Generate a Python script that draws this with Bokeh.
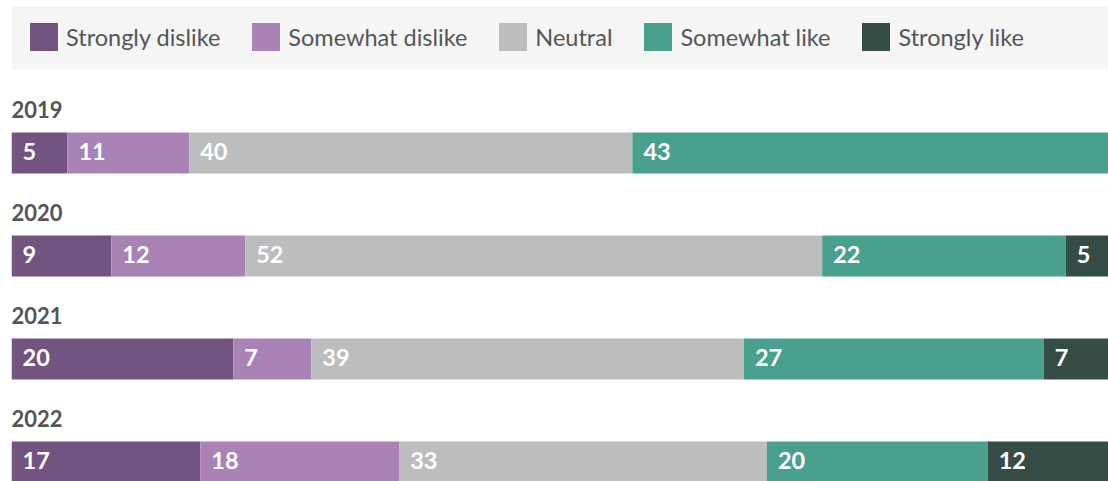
from bokeh.plotting import figure
from bokeh.models import Range1d, ColumnDataSource, Legend, LegendItem, BoxAnnotation
from bokeh.core.properties import value
from bokeh.embed import file_html
from bokeh.resources import INLINE

# ---------------- data ----------------
years = ["2019", "2020", "2021", "2022"]
categories = ["Strongly dislike", "Somewhat dislike", "Neutral", "Somewhat like", "Strongly like"]
colors = ["#73537f", "#a983b5", "#bcbdbf", "#49a08c", "#354c47"]

# segment shares (percent)
strongly_dislike = [5.1, 9.1, 20.2, 17.2]
somewhat_dislike = [11.1, 12.2, 7.1, 18.1]
neutral = [40.4, 52.6, 39.4, 33.5]
somewhat_like = [43.4, 22.2, 27.3, 20.1]
strongly_like = [0.0, 3.9, 5.9, 11.0]

# printed labels
labels_strongly_dislike = ["5", "9", "20", "17"]
labels_somewhat_dislike = ["11", "12", "7", "18"]
labels_neutral = ["40", "52", "39", "33"]
labels_somewhat_like = ["43", "22", "27", "20"]
labels_strongly_like = ["", "5", "7", "12"]

series = [strongly_dislike, somewhat_dislike, neutral, somewhat_like, strongly_like]
series_labels = [labels_strongly_dislike, labels_somewhat_dislike, labels_neutral,
                 labels_somewhat_like, labels_strongly_like]

# ---------------- layout ----------------
W, H = 1108, 481
TOP = 4
ROW_TOP0 = 132
ROW_STEP = 103
BAR_H = 41
FONT = "Lato"
BAND = "#f5f5f5"

p = figure(width=W, height=H, x_range=Range1d(0, 100), y_range=Range1d(H, TOP),
           output_backend="svg", toolbar_location=None,
           x_axis_location=None, y_axis_location=None,
           min_border_left=11, min_border_right=0, min_border_top=TOP, min_border_bottom=0)
p.grid.visible = False
p.outline_line_color = None
p.background_fill_color = "white"
p.border_fill_color = "white"

# legend band
p.add_layout(BoxAnnotation(left=0, right=100, top=6, bottom=69,
                           fill_color=BAND, fill_alpha=1, line_color=None, level="underlay"))

n = len(years)
totals = [sum(s[i] for s in series) for i in range(n)]
centers = [ROW_TOP0 + ROW_STEP * i + BAR_H / 2 for i in range(n)]
tops = [ROW_TOP0 + ROW_STEP * i for i in range(n)]

cum = [0.0] * n
items = []
for name, vals, col, labs in zip(categories, series, colors, series_labels):
    lefts = list(cum)
    rights = [cum[i] + vals[i] / totals[i] * 100 for i in range(n)]
    cum = rights
    src = ColumnDataSource(dict(y=centers, left=lefts, right=rights))
    r = p.hbar(y="y", left="left", right="right", height=BAR_H, fill_color=col,
               line_color=None, source=src)
    items.append(LegendItem(label=name, renderers=[r]))
    keep = [i for i in range(n) if vals[i] > 0 and labs[i]]
    tsrc = ColumnDataSource(dict(x=[lefts[i] for i in keep],
                                 y=[centers[i] - 1.5 for i in keep],
                                 t=[labs[i] for i in keep]))
    p.text(x="x", y="y", text="t", source=tsrc, x_offset=11,
           text_font=value(FONT), text_font_style="bold", text_font_size="23.5px",
           text_color="white", text_baseline="middle", text_align="left")

# year labels
ysrc = ColumnDataSource(dict(x=[0] * n, y=[t - 23 for t in tops], t=years))
p.text(x="x", y="y", text="t", source=ysrc, text_font=value(FONT), text_font_style="bold",
       text_font_size="22px", text_color="#555555", text_baseline="alphabetic", text_align="left")

legend = Legend(items=items, orientation="horizontal", location="top_left",
                padding=14, margin=0, spacing=28, label_standoff=5,
                glyph_width=35, glyph_height=35,
                background_fill_alpha=0,
                border_line_color="white", border_line_alpha=0.01,
                label_text_font=FONT, label_text_font_size="23.5px",
                label_text_color="#555555", label_text_baseline="middle")
p.add_layout(legend)

open("out.html", "w").write(file_html(p, INLINE))
